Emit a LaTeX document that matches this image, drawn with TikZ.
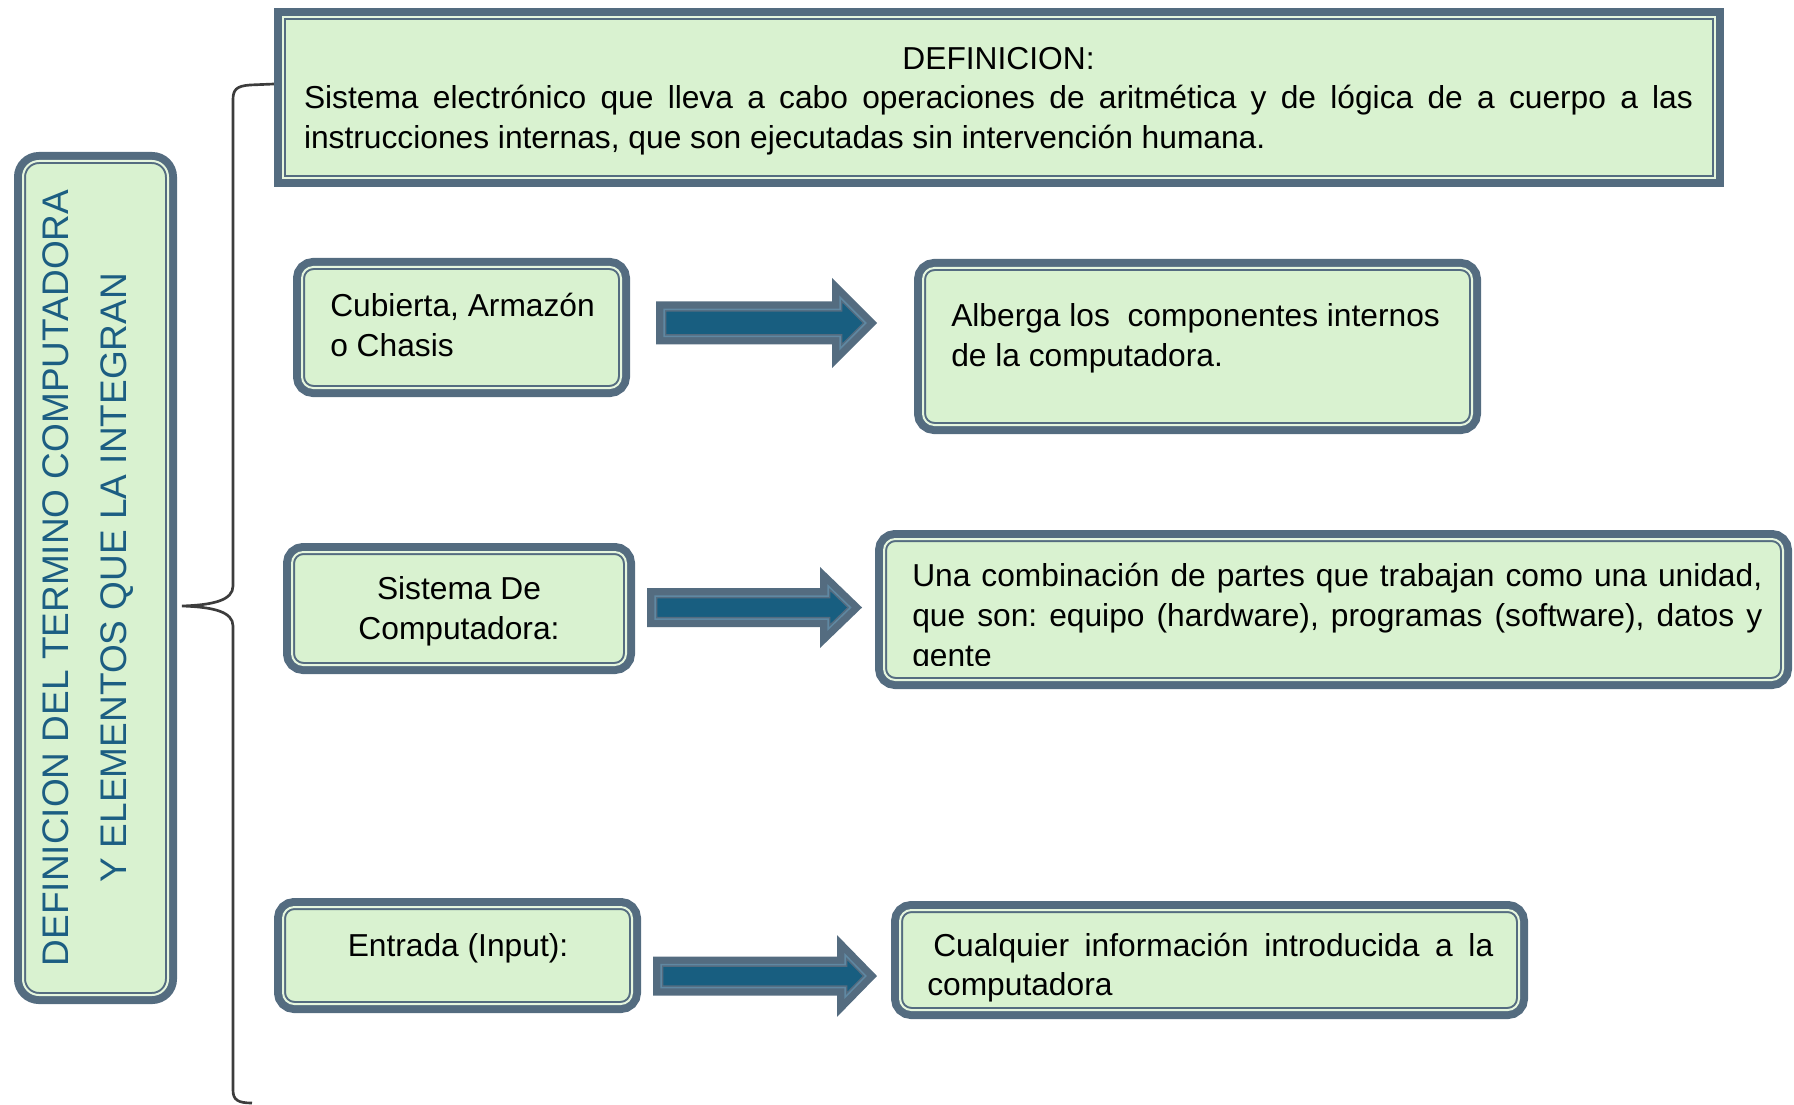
\documentclass[tikz,border=0pt]{standalone}
\usepackage{fontspec}
\setmainfont{Liberation Sans}
\usepackage{tikz}
\frenchspacing

\definecolor{slate}{RGB}{84,108,128}
\definecolor{boxgreen}{RGB}{217,242,208}
\definecolor{boxline}{RGB}{230,246,222}
\definecolor{arrowblue}{RGB}{24,94,128}
\definecolor{arrowline}{RGB}{96,136,162}
\definecolor{titleblue}{RGB}{28,94,130}
\definecolor{bracegray}{RGB}{60,60,60}

\tikzset{
  box/.style={draw=slate, fill=boxgreen, line width=1.5pt, double=boxline, double distance=1.5pt,
    preaction={draw=slate, line width=13.5pt}, inner sep=0pt, rounded corners=8.5pt},
  defbox/.style={box, sharp corners},
  blockarrow/.style={draw=slate, fill=arrowblue, line width=1.125pt, double=arrowline, double distance=1.125pt,
    preaction={draw=slate, line width=12pt}},
  linkline/.style={draw=bracegray, line width=2pt},
  txt/.style={inner sep=0pt, font=\fontsize{23.8}{29.8}\selectfont},
  titletxt/.style={inner sep=0pt, text=titleblue, font=\fontsize{27.75}{43.5}\selectfont}
}

\begin{document}
\begin{tikzpicture}[x=0.75pt,y=0.75pt,yscale=-1,xscale=1]
\useasboundingbox (0,0) rectangle (1794,1105);

%Brace
\coordinate (brace top) at (274,84);
\coordinate (brace tip) at (182,606);
\coordinate (brace end) at (252,1103);
\draw [linkline] (brace top) -- (250,85) .. controls (236,86) and (233,90) .. (233,100) -- (233,586)
  .. controls (233,600) and (214,605) .. (brace tip) .. controls (214,607) and (233,612) .. (233,626)
  -- (233,1090) .. controls (233,1100) and (238,1103) .. (brace end);

%Rounded Rect
\node [box, rounded corners=12pt, minimum width=108.75pt, minimum height=625.5pt] (title) at (95.5,578) {};
%Rect
\node [defbox, minimum width=1074pt, minimum height=120.75pt] (defn) at (999,97.5) {};
%Rounded Rect
\node [box, minimum width=239.25pt, minimum height=90.75pt] (cubierta) at (461.5,327.5) {};
%Rounded Rect
\node [box, minimum width=411.75pt, minimum height=117.75pt] (alberga) at (1197.5,346.5) {};
%Rounded Rect
\node [box, minimum width=250.5pt, minimum height=84.75pt] (sistema) at (459,608.5) {};
%Rounded Rect
\node [box, minimum width=674.25pt, minimum height=105.75pt] (combinacion) at (1333.5,609.5) {};
%Rounded Rect
\node [box, minimum width=261.75pt, minimum height=72.75pt] (entrada) at (457.5,955.5) {};
%Rounded Rect
\node [box, minimum width=464.25pt, minimum height=75pt] (cualquier) at (1209.5,960) {};

%Right Arrow
\draw [blockarrow] (664,309.5) -- (840,309.5) -- (840,297.3) -- (865.7,323) -- (840,348.7) -- (840,336.5) -- (664,336.5) -- cycle;
%Right Arrow
\draw [blockarrow] (655,596) -- (828,596) -- (828,585.8) -- (850.5,607.5) -- (828,629.2) -- (828,619) -- (655,619) -- cycle;
%Right Arrow
\draw [blockarrow] (661,964.5) -- (845,964.5) -- (845,954.7) -- (865.8,976) -- (845,997.3) -- (845,987.5) -- (661,987.5) -- cycle;

% Text Node
\node [titletxt, rotate=90, align=center] (title txt) at (88.5,578) {DEFINICION DEL TERMINO COMPUTADORA\\Y ELEMENTOS QUE LA INTEGRAN};
% Text Node
\node [txt, text width=1041.75pt, align=justify] (defn txt) at (998.5,101) {\makebox[\linewidth]{DEFINICION:}\par\noindent Sistema electrónico que lleva a cabo operaciones de aritmética y de lógica de a cuerpo a las\linebreak instrucciones internas, que son ejecutadas sin intervención humana.};
% Text Node
\node [txt, anchor=west, align=left] (cubierta txt) at (330,325) {Cubierta, Armazón\\o Chasis};
% Text Node
\node [txt, anchor=west, align=left] (alberga txt) at (951,338.5) {Alberga los\ \ componentes internos\\de la computadora.};
% Text Node
\node [txt, align=center] (sistema txt) at (459,611) {Sistema De\\Computadora:};
% Text Node
\begin{scope}
\clip (880,530) rectangle (1790,665);
\node [txt, anchor=west, text width=637.5pt, align=justify] (combinacion txt) at (912,618) {Una combinación de partes que trabajan como una unidad,\linebreak que son: equipo (hardware), programas (software), datos y\linebreak gente};
\end{scope}
% Text Node
\node [txt] (entrada txt) at (458,948) {Entrada (Input):};
% Text Node
\node [txt, anchor=west, text width=424.5pt, align=justify] (cualquier txt) at (927,967.5) {\hspace*{4.5pt}Cualquier información introducida a la\linebreak computadora};

\end{tikzpicture}
\end{document}
